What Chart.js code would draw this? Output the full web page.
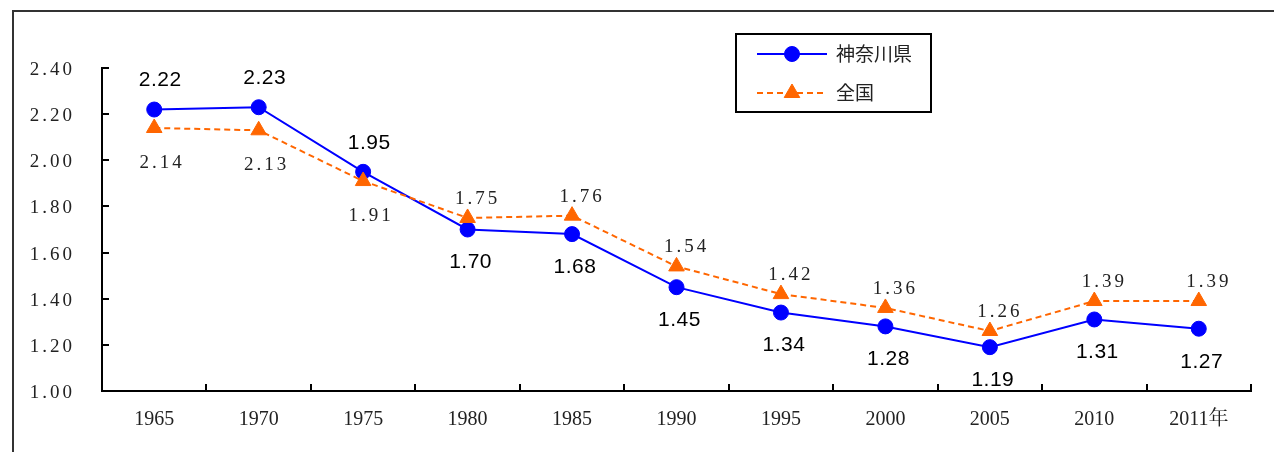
<!DOCTYPE html>
<html>
<head>
<meta charset="utf-8">
<script src="https://cdn.jsdelivr.net/npm/chart.js@4/dist/chart.umd.min.js"></script>
<style>
  html, body { margin: 0; padding: 0; background: #fff; }
  #wrap { width: 1274px; height: 452px; }
</style>
</head>
<body>
<div id="wrap"><canvas id="c" width="1274" height="452"></canvas></div>
<script>
// 合計特殊出生率の推移（神奈川県・全国）
const years = ['1965', '1970', '1975', '1980', '1985', '1990', '1995', '2000', '2005', '2010', '2011年'];
const kanagawa = [2.22, 2.23, 1.95, 1.70, 1.68, 1.45, 1.34, 1.28, 1.19, 1.31, 1.27];
const zenkoku = [2.14, 2.13, 1.91, 1.75, 1.76, 1.54, 1.42, 1.36, 1.26, 1.39, 1.39];
const seriesNames = ['神奈川県', '全国'];
const yMin = 1.0, yMax = 2.4, yStep = 0.2;

const BLUE = '#0000FF';
const ORANGE = '#FF6600';
const SERIF = '"Liberation Serif", "Noto Serif CJK JP", "Noto Sans CJK JP", serif';
const SANS = '"Noto Sans CJK JP", "Liberation Sans", sans-serif';

// 目盛りラベルの字間を広げた数値軸
class SpacedLinearScale extends Chart.LinearScale {
  drawLabels(area) {
    const ctx = this.ctx;
    ctx.save();
    ctx.letterSpacing = '3px';
    ctx.translate(0, 2);
    super.drawLabels(area);
    ctx.restore();
  }
}
SpacedLinearScale.id = 'spacedLinear';
SpacedLinearScale.defaults = Chart.LinearScale.defaults;
Chart.register(SpacedLinearScale);

// 外枠（上辺と左辺）
const framePlugin = {
  id: 'frame',
  beforeDraw(chart) {
    const ctx = chart.ctx;
    ctx.save();
    ctx.strokeStyle = '#333';
    ctx.lineWidth = 2;
    ctx.beginPath();
    ctx.moveTo(13, chart.height);
    ctx.lineTo(13, 11);
    ctx.lineTo(chart.width, 11);
    ctx.stroke();
    ctx.restore();
  }
};

// 内向きの目盛り線
const innerTicksPlugin = {
  id: 'innerTicks',
  afterDraw(chart) {
    const ctx = chart.ctx;
    const area = chart.chartArea;
    const xs = chart.scales.x, ys = chart.scales.y;
    ctx.save();
    ctx.strokeStyle = '#000';
    ctx.lineWidth = 2;
    ctx.beginPath();
    ys.ticks.forEach((t, i) => {
      const y = Math.round(ys.getPixelForTick(i));
      ctx.moveTo(area.left, y);
      ctx.lineTo(area.left + 7, y);
    });
    for (let i = 0; i < years.length; i++) {
      const x = Math.round(xs.getPixelForValue(i + 0.5));
      ctx.moveTo(x, area.bottom);
      ctx.lineTo(x, area.bottom - 7);
    }
    ctx.stroke();
    ctx.restore();
  }
};

// 数値ラベル：上側の系列は上に、下側の系列は下に置く
const valueLabelPlugin = {
  id: 'valueLabels',
  afterDatasetsDraw(chart) {
    const ctx = chart.ctx;
    const sets = chart.data.datasets;
    ctx.save();
    ctx.textAlign = 'center';
    ctx.textBaseline = 'middle';
    sets.forEach((ds, di) => {
      const meta = chart.getDatasetMeta(di);
      const other = sets[1 - di].data;
      meta.data.forEach((pt, i) => {
        const v = ds.data[i];
        const above = v > other[i];
        let dx, dy;
        if (di === 0) {
          ctx.font = '21px "Liberation Sans", sans-serif';
          ctx.letterSpacing = '0.5px';
          ctx.fillStyle = '#000';
          dx = above ? 6 : 3;
          dy = above ? -29 : 33;
        } else {
          ctx.font = '19px ' + SERIF;
          ctx.letterSpacing = '3px';
          ctx.fillStyle = '#222';
          dx = above ? 10 : 8;
          dy = above ? -19 : 35;
        }
        ctx.fillText(v.toFixed(2), pt.x + dx, pt.y + dy);
      });
    });
    ctx.restore();
  }
};

// 凡例（枠付き）
const boxLegendPlugin = {
  id: 'boxLegend',
  afterDraw(chart) {
    const ctx = chart.ctx;
    const bx = 736, by = 34, bw = 195, bh = 78;
    ctx.save();
    ctx.fillStyle = '#fff';
    ctx.fillRect(bx, by, bw, bh);
    ctx.strokeStyle = '#000';
    ctx.lineWidth = 2;
    ctx.strokeRect(bx, by, bw, bh);
    const rows = [by + 20, by + 59];
    chart.data.datasets.forEach((ds, di) => {
      const y = rows[di];
      ctx.save();
      ctx.strokeStyle = ds.borderColor;
      ctx.lineWidth = ds.borderWidth;
      ctx.setLineDash(ds.borderDash || []);
      ctx.beginPath();
      ctx.moveTo(757, y);
      ctx.lineTo(827, y);
      ctx.stroke();
      ctx.restore();
      const opts = {
        pointStyle: ds.pointStyle,
        radius: ds.pointRadius,
        borderWidth: ds.pointBorderWidth,
        rotation: 0
      };
      ctx.save();
      ctx.fillStyle = ds.pointBackgroundColor;
      ctx.strokeStyle = ds.pointBorderColor;
      ctx.lineWidth = ds.pointBorderWidth;
      Chart.helpers.drawPoint(ctx, opts, 792, y);
      ctx.restore();
      ctx.fillStyle = '#222';
      ctx.font = '19px ' + SANS;
      ctx.textAlign = 'left';
      ctx.textBaseline = 'middle';
      ctx.fillText(ds.label, 836, y);
    });
    ctx.restore();
  }
};

new Chart(document.getElementById('c'), {
  type: 'line',
  data: {
    labels: years,
    datasets: [
      {
        label: seriesNames[0],
        data: kanagawa,
        borderColor: BLUE,
        backgroundColor: BLUE,
        borderWidth: 2,
        pointStyle: 'circle',
        pointRadius: 7.5,
        pointBackgroundColor: BLUE,
        pointBorderColor: BLUE,
        pointBorderWidth: 1,
        tension: 0,
        order: 2
      },
      {
        label: seriesNames[1],
        data: zenkoku,
        borderColor: ORANGE,
        backgroundColor: ORANGE,
        borderWidth: 2,
        borderDash: [6, 4],
        pointStyle: 'triangle',
        pointRadius: 9,
        pointBackgroundColor: ORANGE,
        pointBorderColor: ORANGE,
        pointBorderWidth: 1,
        tension: 0,
        order: 1
      }
    ]
  },
  options: {
    responsive: false,
    animation: false,
    events: [],
    layout: { padding: { left: 20, top: 68, right: 23, bottom: 0 } },
    plugins: {
      legend: { display: false },
      tooltip: { enabled: false }
    },
    elements: { line: { borderCapStyle: 'butt' } },
    scales: {
      x: {
        type: 'category',
        offset: true,
        grid: { offset: true, drawOnChartArea: false, drawTicks: false },
        border: { display: true, color: '#000', width: 2 },
        ticks: {
          color: '#222',
          font: { family: SERIF, size: 20 },
          padding: 17,
          maxRotation: 0,
          autoSkip: false
        },
        afterFit(scale) { scale.height = 61; }
      },
      y: {
        type: 'spacedLinear',
        min: yMin,
        max: yMax,
        grid: { drawOnChartArea: false, drawTicks: false },
        border: { display: true, color: '#000', width: 2 },
        ticks: {
          stepSize: yStep,
          color: '#222',
          font: { family: SERIF, size: 19 },
          padding: 27,
          callback: (v) => Number(v).toFixed(2)
        },
        afterFit(scale) { scale.width = 82; }
      }
    }
  },
  plugins: [framePlugin, innerTicksPlugin, valueLabelPlugin, boxLegendPlugin]
});
</script>
</body>
</html>
